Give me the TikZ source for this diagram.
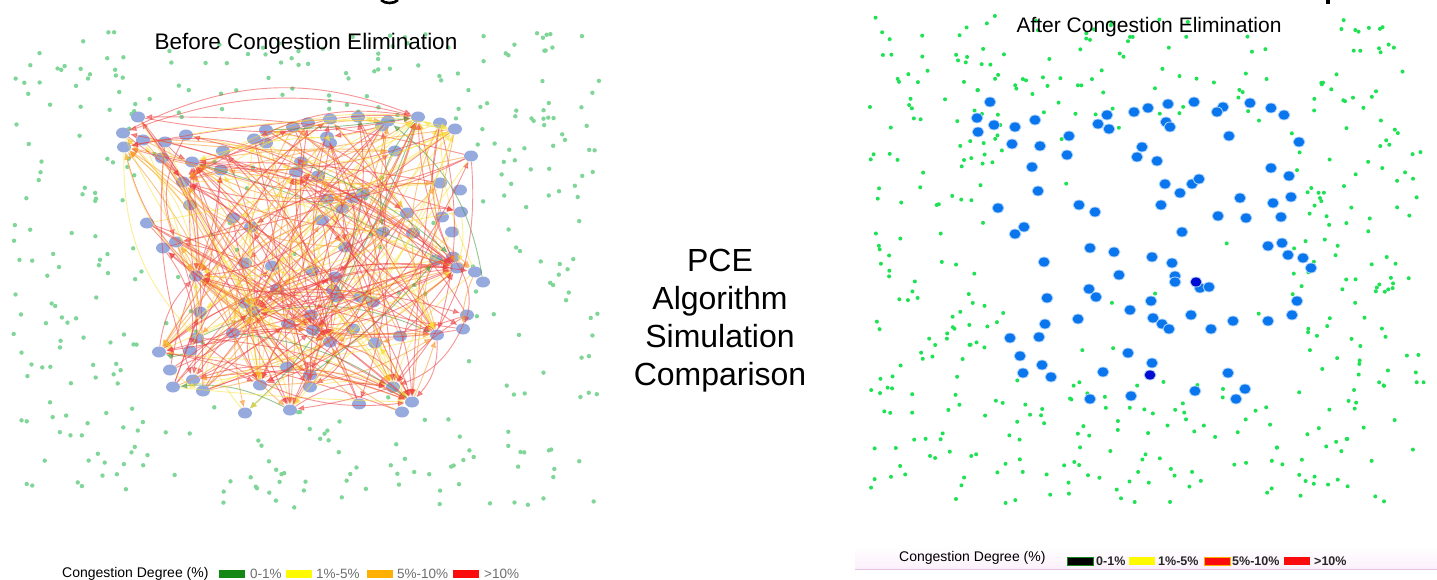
\documentclass[tikz,border=0pt]{standalone}
\usepackage{fontspec}
\setmainfont{Liberation Sans}
\usetikzlibrary{shapes.geometric,arrows.meta}

\definecolor{lnodec}{RGB}{150,170,221}
\definecolor{rnodec}{RGB}{10,118,238}
\definecolor{rnodedark}{RGB}{0,12,210}
\definecolor{ldot}{RGB}{128,214,152}
\definecolor{rdot}{RGB}{30,226,84}
\definecolor{ered}{RGB}{238,62,62}
\definecolor{eorange}{RGB}{248,150,40}
\definecolor{eyellow}{RGB}{250,226,60}
\definecolor{egreen}{RGB}{70,150,60}
\definecolor{legGreen}{RGB}{20,135,20}
\definecolor{legYellow}{RGB}{255,250,0}
\definecolor{legOrange}{RGB}{255,176,0}
\definecolor{legRed}{RGB}{250,12,12}
\definecolor{leggrey}{RGB}{110,110,110}
\definecolor{bandpink}{RGB}{251,240,251}
\definecolor{bandline}{RGB}{228,192,228}

\tikzset{
  lnode/.style={ellipse, fill=lnodec, minimum width=14pt, minimum height=11pt, inner sep=0pt},
  rnode/.style={ellipse, fill=rnodec, draw=rnodec!30, line width=0.8pt,
                minimum width=12pt, minimum height=10pt, inner sep=0pt},
  rdark/.style={rnode, fill=rnodedark},
  netedge/.style={line width=0.9pt, opacity=0.55, -{Latex[length=7pt,width=6pt]}},
  paneltitle/.style={font=\fontsize{21}{25}\selectfont, inner sep=0pt},
  legtext/.style={font=\fontsize{14}{16}\selectfont, anchor=west, inner sep=0pt},
  legnum/.style={font=\fontsize{13.5}{16}\selectfont, text=leggrey, anchor=west, inner sep=0pt},
  legnumb/.style={font=\bfseries\fontsize{12.5}{15}\selectfont, text=black!85, anchor=west, inner sep=0pt},
  swatch/.style={rectangle, minimum width=26pt, minimum height=8pt, inner sep=0pt, anchor=west},
}

\begin{document}
\begin{tikzpicture}[x=1pt,y=-1pt]
\useasboundingbox (0,0) rectangle (1437,580);
\fill[white] (0,0) rectangle (1437,580);

% cut-off strokes of the large heading above the panels
\draw[line width=2.6pt] (381,0) .. controls (385,4) and (394,4) .. (398,0);
\fill (1326,0) rectangle (1330,4);

% ---------- background sensor dots, left panel ----------
\pgfmathsetseed{4242}
\foreach \i in {1,...,480}{
  \pgfmathsetmacro\px{12+588*rnd}
  \pgfmathsetmacro\py{32+476*rnd}
  \pgfmathtruncatemacro\inside{and(and(\px>140,\px<475),and(\py>120,\py<405))}
  \pgfmathtruncatemacro\keep{(\inside==0) || (rnd<0.3)}
  \ifnum\keep=1 \fill[ldot] (\px,\py) circle (2.2pt); \fi
}

% ---------- background sensor dots, right panel ----------
\pgfmathsetseed{777}
\foreach \i in {1,...,620}{
  \pgfmathsetmacro\px{870+555*rnd}
  \pgfmathsetmacro\py{15+488*rnd}
  \pgfmathtruncatemacro\inside{and(and(\px>1005,\px<1290),and(\py>115,\py<380))}
  \pgfmathtruncatemacro\keep{(\inside==0) || (rnd<0.06)}
  \ifnum\keep=1 \fill[rdot] (\px,\py) circle (2pt); \fi
}

% ---------- congested network (before) ----------
\foreach \x/\y [count=\n] in {
 138/117,123/133,143/140,124/147,165/142,186/135,192/162,162/158,223/151,221/170,
 183/182,190/205,147/223,176/242,163/248,233/218,251/227,245/263,272/266,196/276,
 200/312,245/303,253/311,277/289,288/324,311/315,313/330,330/342,197/338,233/333,
 159/352,190/351,170/370,193/380,203/391,173/387,260/385,287/367,290/410,245/413,
 310/375,310/387,359/404,393/387,402/412,412/402,353/329,375/343,400/336,437/335,
 463/329,467/315,483/282,475/272,457/268,453/257,436/260,360/297,373/302,337/297,
 335/277,333/290,312/271,345/247,322/220,383/232,413/233,452/232,442/217,461/212,
 407/213,342/208,327/199,353/198,363/193,440/183,460/190,395/151,471/156,455/129,
 440/123,418/117,388/121,382/126,358/117,330/143,327/137,330/119,308/123,293/127,
 266/130,254/139,266/143,301/162,296/172,318/176}
  \node[lnode] (L\n) at (\x,\y) {};

\pgfmathsetseed{99}
\foreach \i in {1,...,360}{
  \pgfmathtruncatemacro\a{random(1,96)}
  \pgfmathtruncatemacro\k{random(0,15)}
  \pgfmathtruncatemacro\h{{4,7,11,20,23,27,28,31,37,39,44,46,50,55,82,95}[\k]}
  \pgfmathtruncatemacro\r{random(1,96)}
  \pgfmathtruncatemacro\b{rnd<0.55 ? \h : \r}
  \pgfmathtruncatemacro\c{random(1,20)}
  \pgfmathtruncatemacro\bd{random(-25,25)}
  \ifnum\c<11 \def\col{ered}\else\ifnum\c<15 \def\col{eorange}\else
    \ifnum\c<20 \def\col{eyellow}\else\def\col{egreen}\fi\fi\fi
  \ifnum\a=\b\relax\else
    \draw[netedge, draw=\col, bend left=\bd] (L\a) to (L\b);
  \fi
}

% ---------- network after congestion elimination ----------
\foreach \x/\y [count=\n] in {
 990/102,977/118,994/125,978/132,1015/127,1035/120,1012/144,1040/146,1069/136,1067/155,
 1032/167,1038/191,998/208,1024/227,1015/234,1044/262,1047/298,1045/324,1039/337,1010/338,
 1020/356,1042/365,1023/373,1051/377,1090/399,1103/372,1128/353,1131/396,1152/363,1078/319,
 1089/289,1096/297,1119/275,1090/248,1114/252,1130/310,1151/301,1153/318,1162/324,1169/329,
 1152/257,1172/263,1175/276,1175/282,1200/288,1209/287,1191/315,1211/329,1233/321,1268/321,
 1292/315,1297/301,1182/232,1268/246,1282/243,1288/255,1303/258,1311/268,1246/218,1218/216,
 1281/217,1273/203,1240/198,1291/197,1289/176,1271/168,1299/142,1229/136,1271/108,1250/103,
 1284/115,1223/107,1217/112,1194/102,1168/104,1148/108,1134/112,1107/115,1098/124,1109/129,
 1166/122,1170/127,1142/147,1137/157,1157/161,1165/184,1180/193,1192/184,1199/179,1161/205,
 1079/205,1095/212,1195/391,1228/373,1245/389,1236/399}
  \node[rnode] (R\n) at (\x,\y) {};
\node[rdark] (Rd1) at (1196,282) {};
\node[rdark] (Rd2) at (1150,375) {};

% ---------- titles ----------
\node[paneltitle, font=\fontsize{22.5}{27}\selectfont] (tbefore) at (306,44) {Before Congestion Elimination};
\node[paneltitle] (tafter) at (1149,27) {After Congestion Elimination};
\node[font=\fontsize{32}{38}\selectfont, align=center, inner sep=0pt] (pce) at (720,321)
  {PCE\\Algorithm\\Simulation\\Comparison};

% ---------- legend, left ----------
\node[legtext] (lgl) at (62,574) {Congestion Degree (\%)};
\node[swatch, fill=legGreen]  (sl1) at (219,574) {};
\node[legnum] (nl1) at (250,574) {0-1\%};
\node[swatch, fill=legYellow] (sl2) at (286,574) {};
\node[legnum] (nl2) at (316,574) {1\%-5\%};
\node[swatch, fill=legOrange] (sl3) at (367,574) {};
\node[legnum] (nl3) at (397,574) {5\%-10\%};
\node[swatch, fill=legRed]    (sl4) at (453,574) {};
\node[legnum] (nl4) at (484,574) {>10\%};

% ---------- legend, right ----------
\shade[top color=white, bottom color=bandpink] (855,546) rectangle (1437,569);
\draw[bandline, line width=1pt] (855,569) -- (1437,569);
\node[legtext] (lgr) at (899,558) {Congestion Degree (\%)};
\node[swatch, fill=black, draw=legGreen, line width=0.8pt] (sr1) at (1067,561) {};
\node[legnumb] (nr1) at (1096,561) {0-1\%};
\node[swatch, fill=legYellow] (sr2) at (1129,561) {};
\node[legnumb] (nr2) at (1158,561) {1\%-5\%};
\node[swatch, fill=legRed, draw=legOrange, line width=0.8pt] (sr3) at (1204,561) {};
\node[legnumb] (nr3) at (1232,561) {5\%-10\%};
\node[swatch, fill=legRed] (sr4) at (1284,561) {};
\node[legnumb] (nr4) at (1314,561) {>10\%};
\end{tikzpicture}
\end{document}
